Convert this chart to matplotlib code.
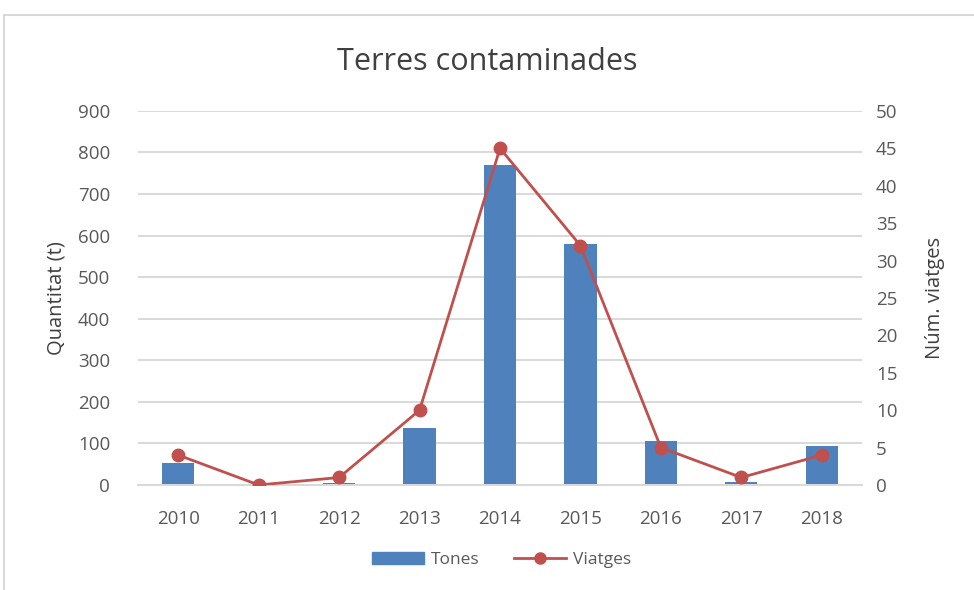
import numpy as np
import matplotlib
matplotlib.use('Agg')
import matplotlib.pyplot as plt
from matplotlib.patches import Rectangle
from matplotlib.lines import Line2D

years = ['2010', '2011', '2012', '2013', '2014', '2015', '2016', '2017', '2018']
tones = [53, 0, 4, 137, 770, 580, 106, 7, 94]
viatges = [4, 0, 1, 10, 45, 32, 5, 1, 4]

blue = '#4F81BD'
red = '#C0504D'
grey_txt = '#595959'
grid_c = '#D9D9D9'

plt.rcParams['font.family'] = ['Open Sans', 'DejaVu Sans']

fig = plt.figure(figsize=(9.74, 5.9), dpi=100)
ax = fig.add_axes([0.1417, 0.178, 0.7433, 0.634])
ax2 = ax.twinx()

x = np.arange(len(years))
ax.bar(x, tones, width=0.4, color=blue, zorder=2)
ax2.plot(x, viatges, color=red, linewidth=2, marker='o', markersize=9, zorder=3)

ax.set_xlim(-0.5, len(years) - 0.5)
ax.set_ylim(0, 900)
ax.set_yticks(np.arange(0, 901, 100))
ax2.set_ylim(0, 50)
ax2.set_yticks(np.arange(0, 51, 5))
ax.set_xticks(x)
ax.set_xticklabels(years)

ax.grid(axis='y', color=grid_c, linewidth=1.4, zorder=0)
ax.set_axisbelow(True)
for a in (ax, ax2):
    for s in ('top', 'right', 'left'):
        a.spines[s].set_visible(False)
    a.spines['bottom'].set_color(grid_c)
    a.spines['bottom'].set_linewidth(1.4)
    a.tick_params(length=0, labelsize=13.5, colors=grey_txt, pad=8)
ax.tick_params(axis='x', pad=18)
ax.tick_params(axis='y', pad=20)
ax2.tick_params(axis='y', pad=10)

ax.set_ylabel('Quantitat (t)', fontsize=14.5, color='#404040', labelpad=8)
ax2.set_ylabel('Núm. viatges', fontsize=14.5, color='#404040', rotation=90, labelpad=20)
fig.suptitle('Terres contaminades', fontsize=22, color='#404040', y=0.92)

handles = [Rectangle((0, 0), 1, 1, color=blue),
           Line2D([], [], color=red, linewidth=2, marker='o', markersize=8)]
fig.legend(handles, ['Tones', 'Viatges'], loc='center', bbox_to_anchor=(0.515, 0.051),
           ncol=2, frameon=False, fontsize=12.5, labelcolor=grey_txt,
           handlelength=3.0, handletextpad=0.4, columnspacing=2.0)

fig.patches.append(Rectangle((4 / 974, -0.01), 1.0, 1 - 15 / 590 + 0.01,
                             transform=fig.transFigure, fill=False,
                             edgecolor='#D9D9D9', linewidth=1.5))

fig.savefig('out.png', dpi=100)
